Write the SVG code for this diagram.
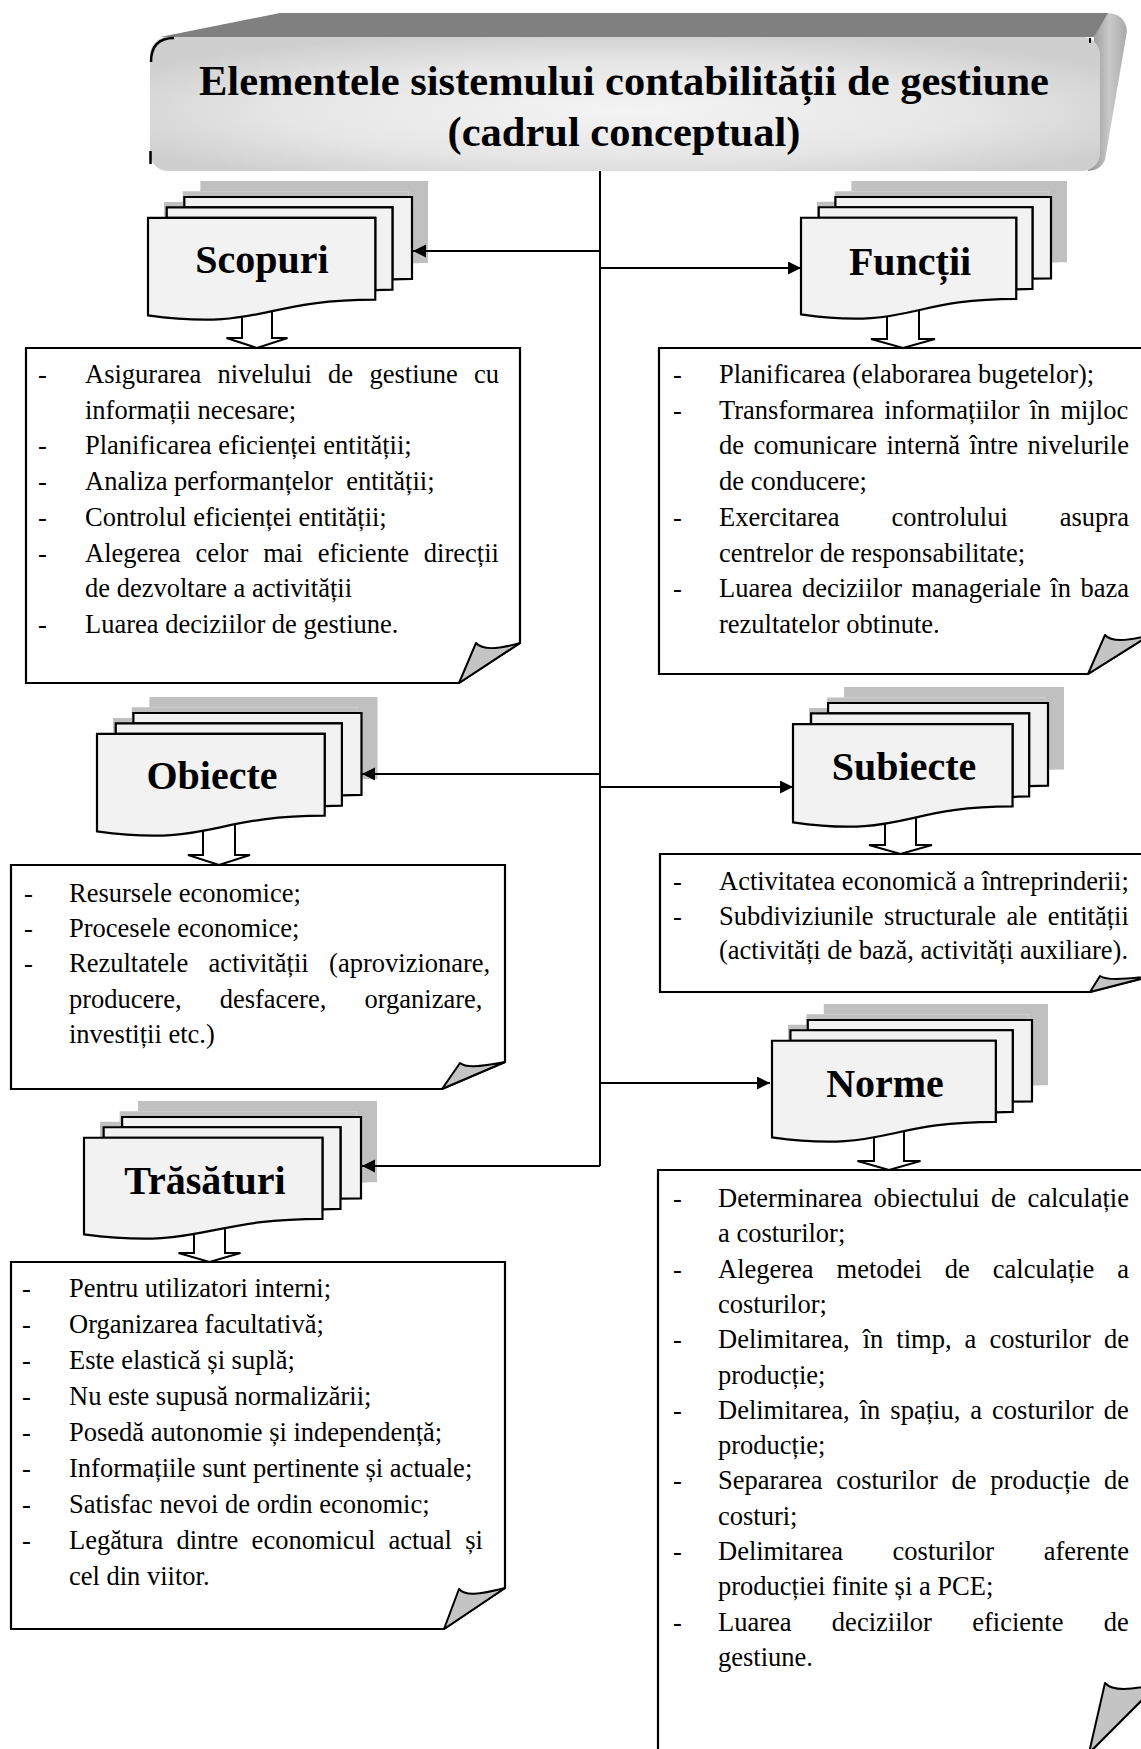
<svg xmlns="http://www.w3.org/2000/svg" xmlns:xlink="http://www.w3.org/1999/xlink" width="1141" height="1749" viewBox="0 0 1141 1749">
  <style>
    .body { font-family: "Liberation Serif", "Times New Roman", serif; font-size: 26.5px; fill: #000; }
    .label { font-family: "Liberation Serif", "Times New Roman", serif; font-size: 40px; font-weight: bold; fill: #000; text-anchor: middle; }
    .title { font-family: "Liberation Serif", "Times New Roman", serif; font-size: 42.5px; font-weight: bold; fill: #000; text-anchor: middle; }
    .sheet use { fill: #f2f2f2; stroke: #000; stroke-width: 2.2; }
    .shadow use { fill: #c0c0c0; stroke: none; }
    .box { fill: #fff; stroke: #000; stroke-width: 2.2; }
    .flap { fill: #c4c4c4; stroke: #000; stroke-width: 2; stroke-linejoin: round; }
    .down { fill: #fff; stroke: #000; stroke-width: 2; }
    .conn { fill: none; stroke: #000; stroke-width: 2; }
  </style>
  <defs>
    <!-- multi-document stack, drawn in a 21600 x 21600 unit box -->
    <path id="mdFront" vector-effect="non-scaling-stroke" d="M0,20782 C9298,23542 9298,18022 18595,18022 L18595,3675 L0,3675 Z"/>
    <path id="mdMid" vector-effect="non-scaling-stroke" d="M1532,3675 L1532,1815 L20000,1815 L20000,16252 C19298,16252 18595,16352 18595,16352 L18595,3675 Z"/>
    <path id="mdBack" vector-effect="non-scaling-stroke" d="M2972,1815 L2972,0 L21600,0 L21600,14392 C20800,14392 20000,14467 20000,14467 L20000,1815 Z"/>
    <marker id="head" markerUnits="userSpaceOnUse" markerWidth="14" markerHeight="14" refX="13" refY="6.5" orient="auto">
      <path d="M0,0 L13,6.5 L0,13 Z" fill="#000"/>
    </marker>
    <radialGradient id="faceGrad" cx="50%" cy="55%" r="60%">
      <stop offset="0" stop-color="#f4f4f4"/>
      <stop offset="0.6" stop-color="#e6e6e6"/>
      <stop offset="1" stop-color="#cfcfcf"/>
    </radialGradient>
    <linearGradient id="sideGrad" x1="0" y1="0" x2="1" y2="0">
      <stop offset="0" stop-color="#8e8e8e"/>
      <stop offset="0.55" stop-color="#c9c9c9"/>
      <stop offset="1" stop-color="#a9a9a9"/>
    </linearGradient>
  </defs>

  <!-- title block with 3D extrusion -->
  <g id="title">
    <path d="M1094,37 L1106,13 Q1125,13 1127,31 L1105,160 Q1100,171 1088,171 Z" fill="url(#sideGrad)"/>
    <path d="M160,37 L280,13 L1108,13 L1094,37 Z" fill="#808080"/>
    <rect x="150" y="37" width="950" height="134" rx="18" fill="url(#faceGrad)"/>
    <path d="M151,62 Q151,38 174,38" fill="none" stroke="#000" stroke-width="2.5"/>
    <path d="M150.5,151 V164" fill="none" stroke="#000" stroke-width="2.5"/>
    <path d="M1090,38 V43" fill="none" stroke="#000" stroke-width="2"/>
    <text class="title" x="624" y="95">Elementele sistemului contabilității de gestiune</text>
    <text class="title" x="624" y="146">(cadrul conceptual)</text>
  </g>

  <!-- Scopuri -->
  <g id="scopuri">
    <path class="down" d="M242,300 V338 H226.5 L257,348 L287.5,338 H272 V300"/>
    <g class="shadow" transform="translate(164,181) scale(0.012222,0.0056944)"><use href="#mdFront"/><use href="#mdMid"/><use href="#mdBack"/></g>
    <g class="sheet" transform="translate(148,197) scale(0.012222,0.0056944)"><use href="#mdBack"/><use href="#mdMid"/><use href="#mdFront"/></g>
    <text class="label" x="262" y="273">Scopuri</text>
  </g>
  <g id="scopuri-list">
    <path class="box" d="M26,348 H520 V643 L459,683 H26 Z"/>
    <path class="flap" d="M459,683 L476,643 C482,650 496,650 520,643 Z"/>
    <g class="body">
      <text x="38" y="383">-</text><text x="85" y="383" style="word-spacing:9.7px">Asigurarea nivelului de gestiune cu</text>
      <text x="85" y="418.7">informații necesare;</text>
      <text x="38" y="454.4">-</text><text x="85" y="454.4">Planificarea eficienței entității;</text>
      <text x="38" y="490.1">-</text><text x="85" y="490.1">Analiza performanțelor&#160; entității;</text>
      <text x="38" y="525.8">-</text><text x="85" y="525.8">Controlul eficienței entității;</text>
      <text x="38" y="561.5">-</text><text x="85" y="561.5" style="word-spacing:8.2px">Alegerea celor mai eficiente direcții</text>
      <text x="85" y="597.2">de dezvoltare a activității</text>
      <text x="38" y="632.9">-</text><text x="85" y="632.9">Luarea deciziilor de gestiune.</text>
    </g>
  </g>

  <!-- Funcții -->
  <g id="functii">
    <path class="down" d="M887,300 V339 H871 L903,348 L935,339 H919 V300"/>
    <g class="shadow" transform="translate(817,181) scale(0.011574,0.0056481)"><use href="#mdFront"/><use href="#mdMid"/><use href="#mdBack"/></g>
    <g class="sheet" transform="translate(801,197) scale(0.011574,0.0056481)"><use href="#mdBack"/><use href="#mdMid"/><use href="#mdFront"/></g>
    <text class="label" x="910" y="275">Funcții</text>
  </g>
  <g id="functii-list">
    <path class="box" d="M659,348 H1150 V635 L1088,674 H659 Z"/>
    <path class="flap" d="M1088,674 L1105,635 C1111,642 1125,642 1150,635 Z"/>
    <g class="body">
      <text x="673" y="383">-</text><text x="719" y="383">Planificarea (elaborarea bugetelor);</text>
      <text x="673" y="418.7">-</text><text x="719" y="418.7" style="word-spacing:3.5px">Transformarea informațiilor în mijloc</text>
      <text x="719" y="454.4" style="word-spacing:2.8px">de comunicare internă între nivelurile</text>
      <text x="719" y="490.1">de conducere;</text>
      <text x="673" y="525.8">-</text><text x="719" y="525.8" style="word-spacing:45.3px">Exercitarea controlului asupra</text>
      <text x="719" y="561.5">centrelor de responsabilitate;</text>
      <text x="673" y="597.2">-</text><text x="719" y="597.2" style="word-spacing:2.8px">Luarea deciziilor manageriale în baza</text>
      <text x="719" y="632.9">rezultatelor obtinute.</text>
    </g>
  </g>

  <!-- Obiecte -->
  <g id="obiecte">
    <path class="down" d="M203,815 V855 H188 L219,865 L250,855 H235 V815"/>
    <g class="shadow" transform="translate(113,697) scale(0.012245,0.0056944)"><use href="#mdFront"/><use href="#mdMid"/><use href="#mdBack"/></g>
    <g class="sheet" transform="translate(97,713) scale(0.012245,0.0056944)"><use href="#mdBack"/><use href="#mdMid"/><use href="#mdFront"/></g>
    <text class="label" x="212" y="789">Obiecte</text>
  </g>
  <g id="obiecte-list">
    <path class="box" d="M11,865 H505 V1062 L442,1089 H11 Z"/>
    <path class="flap" d="M442,1089 L460,1063 C466,1068 478,1067 505,1062 Z"/>
    <g class="body">
      <text x="24" y="902">-</text><text x="69" y="902">Resursele economice;</text>
      <text x="24" y="937.2">-</text><text x="69" y="937.2">Procesele economice;</text>
      <text x="24" y="972.4">-</text><text x="69" y="972.4" style="word-spacing:13.8px">Rezultatele activității (aprovizionare,</text>
      <text x="69" y="1007.6" style="word-spacing:31.5px">producere, desfacere, organizare,</text>
      <text x="69" y="1042.8">investiții etc.)</text>
    </g>
  </g>

  <!-- Subiecte -->
  <g id="subiecte">
    <path class="down" d="M885,805 V845 H869 L900.5,854 L932,845 H916 V805"/>
    <g class="shadow" transform="translate(809,687) scale(0.011806,0.0057407)"><use href="#mdFront"/><use href="#mdMid"/><use href="#mdBack"/></g>
    <g class="sheet" transform="translate(793,703) scale(0.011806,0.0057407)"><use href="#mdBack"/><use href="#mdMid"/><use href="#mdFront"/></g>
    <text class="label" x="904" y="780">Subiecte</text>
  </g>
  <g id="subiecte-list">
    <path class="box" d="M660,854 H1152 V976 L1090,992 H660 Z"/>
    <path class="flap" d="M1090,992 L1100,976 C1106,980 1120,980 1152,976 Z"/>
    <g class="body">
      <text x="673" y="890">-</text><text x="719" y="890">Activitatea economică a întreprinderii;</text>
      <text x="673" y="924.5">-</text><text x="719" y="924.5" style="word-spacing:3.9px">Subdiviziunile structurale ale entității</text>
      <text x="719" y="959">(activități de bază, activități auxiliare).</text>
    </g>
  </g>

  <!-- Norme -->
  <g id="norme">
    <path class="down" d="M874,1120 V1161 H857.5 L889,1170 L920.5,1161 H904 V1120"/>
    <g class="shadow" transform="translate(788,1004) scale(0.012037,0.0056481)"><use href="#mdFront"/><use href="#mdMid"/><use href="#mdBack"/></g>
    <g class="sheet" transform="translate(772,1020) scale(0.012037,0.0056481)"><use href="#mdBack"/><use href="#mdMid"/><use href="#mdFront"/></g>
    <text class="label" x="885" y="1097">Norme</text>
  </g>
  <g id="norme-list">
    <path class="box" d="M658,1170 H1159 V1683 L1089,1753 H658 Z"/>
    <path class="flap" d="M1089,1753 L1105,1683 C1112,1691 1130,1691 1159,1683 Z"/>
    <g class="body">
      <text x="673" y="1207">-</text><text x="718" y="1207" style="word-spacing:4.8px">Determinarea obiectului de calculație</text>
      <text x="718" y="1242.3">a costurilor;</text>
      <text x="673" y="1277.6">-</text><text x="718" y="1277.6" style="word-spacing:16.3px">Alegerea metodei de calculație a</text>
      <text x="718" y="1312.9">costurilor;</text>
      <text x="673" y="1348.2">-</text><text x="718" y="1348.2" style="word-spacing:6.4px">Delimitarea, în timp, a costurilor de</text>
      <text x="718" y="1383.5">producție;</text>
      <text x="673" y="1418.8">-</text><text x="718" y="1418.8" style="word-spacing:3.4px">Delimitarea, în spațiu, a costurilor de</text>
      <text x="718" y="1454.1">producție;</text>
      <text x="673" y="1489.4">-</text><text x="718" y="1489.4" style="word-spacing:7.1px">Separarea costurilor de producție de</text>
      <text x="718" y="1524.7">costuri;</text>
      <text x="673" y="1560">-</text><text x="718" y="1560" style="word-spacing:42.9px">Delimitarea costurilor aferente</text>
      <text x="718" y="1595.3">producției finite și a PCE;</text>
      <text x="673" y="1630.6">-</text><text x="718" y="1630.6" style="word-spacing:33.7px">Luarea deciziilor eficiente de</text>
      <text x="718" y="1665.9">gestiune.</text>
    </g>
  </g>

  <!-- Trăsături -->
  <g id="trasaturi">
    <path class="down" d="M194,1215 V1253 H178.5 L209.5,1262 L240.5,1253 H225 V1215"/>
    <g class="shadow" transform="translate(100,1101) scale(0.012824,0.0056481)"><use href="#mdFront"/><use href="#mdMid"/><use href="#mdBack"/></g>
    <g class="sheet" transform="translate(84,1117) scale(0.012824,0.0056481)"><use href="#mdBack"/><use href="#mdMid"/><use href="#mdFront"/></g>
    <text class="label" x="205" y="1194">Trăsături</text>
  </g>
  <g id="trasaturi-list">
    <path class="box" d="M11,1262 H505 V1588 L444,1629 H11 Z"/>
    <path class="flap" d="M444,1629 L459,1589 C465,1596 478,1595 505,1588 Z"/>
    <g class="body">
      <text x="22" y="1297">-</text><text x="69" y="1297">Pentru utilizatori interni;</text>
      <text x="22" y="1333">-</text><text x="69" y="1333">Organizarea facultativă;</text>
      <text x="22" y="1369">-</text><text x="69" y="1369">Este elastică și suplă;</text>
      <text x="22" y="1405">-</text><text x="69" y="1405">Nu este supusă normalizării;</text>
      <text x="22" y="1441">-</text><text x="69" y="1441">Posedă autonomie și independență;</text>
      <text x="22" y="1477">-</text><text x="69" y="1477">Informațiile sunt pertinente și actuale;</text>
      <text x="22" y="1513">-</text><text x="69" y="1513">Satisfac nevoi de ordin economic;</text>
      <text x="22" y="1549">-</text><text x="69" y="1549" style="word-spacing:6.7px">Legătura dintre economicul actual și</text>
      <text x="69" y="1585">cel din viitor.</text>
    </g>
  </g>

  <!-- connectors: central trunk with branches -->
  <g id="connectors" class="conn">
    <path d="M600,171 V1166"/>
    <path d="M600,251 H413" marker-end="url(#head)"/>
    <path d="M600,268 H801" marker-end="url(#head)"/>
    <path d="M600,774 H362" marker-end="url(#head)"/>
    <path d="M600,787 H793" marker-end="url(#head)"/>
    <path d="M600,1083 H770" marker-end="url(#head)"/>
    <path d="M600,1166 H362" marker-end="url(#head)"/>
  </g>
</svg>
